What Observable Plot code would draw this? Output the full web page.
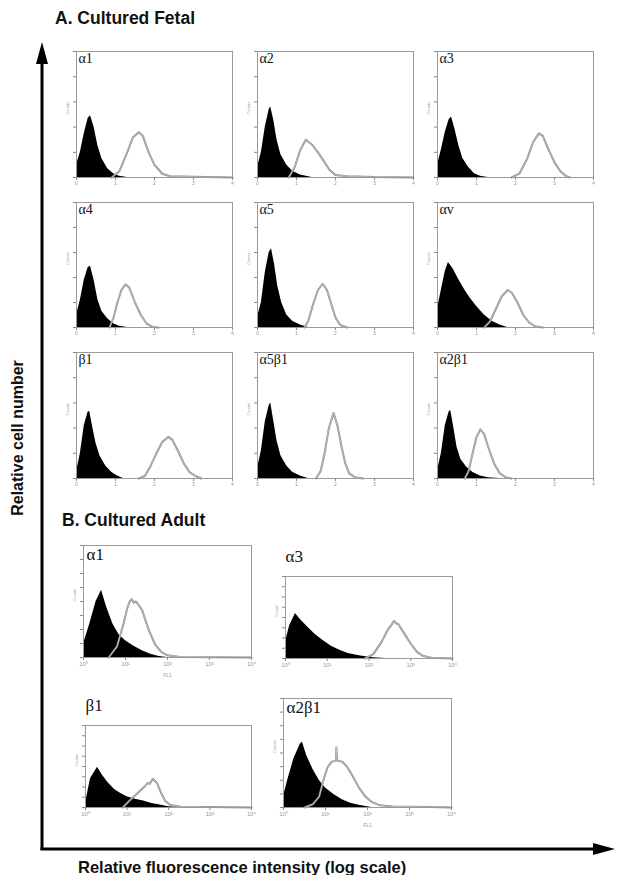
<!DOCTYPE html>
<html>
<head>
<meta charset="utf-8">
<script src="https://cdn.jsdelivr.net/npm/d3@7"></script>
<script src="https://cdn.jsdelivr.net/npm/@observablehq/plot@0.6"></script>
<style>
  html, body { margin: 0; padding: 0; background: #fff; }
  #fig { position: relative; width: 621px; height: 875px; overflow: hidden; background: #fff; font-family: "Liberation Sans", Arial, sans-serif; }
  .ttl { position: absolute; font-weight: bold; color: #111; white-space: nowrap; line-height: 1; }
  .pnl { position: absolute; }
</style>
</head>
<body>
<div id="fig"></div>
<script>
// ---------- DATA (x = log decades 10^0..10^4, y = fraction of panel height) ----------
// A. Cultured Fetal : control (filled) and stained (outline) histograms
const fa1Ctrl  = [[0,0.1],[0.1,0.2],[0.2,0.35],[0.3,0.47],[0.36,0.49],[0.45,0.4],[0.55,0.25],[0.65,0.15],[0.8,0.07],[0.95,0.03],[1.1,0.01],[1.3,0]];
const fa1Stain = [[0.9,0],[1.1,0.05],[1.3,0.2],[1.45,0.32],[1.6,0.36],[1.7,0.33],[1.85,0.2],[2.0,0.1],[2.2,0.03],[2.4,0.01],[3,0.005],[4,0]];
const fa2Ctrl  = [[0,0.08],[0.1,0.2],[0.2,0.4],[0.3,0.54],[0.34,0.56],[0.42,0.45],[0.5,0.3],[0.6,0.18],[0.75,0.1],[0.9,0.05],[1.1,0.02],[1.4,0]];
const fa2Stain = [[0.8,0],[0.95,0.08],[1.1,0.22],[1.24,0.3],[1.4,0.26],[1.55,0.2],[1.7,0.13],[1.85,0.06],[2.0,0.02],[2.3,0.01],[3,0.003],[4,0]];
const fa3Ctrl  = [[0,0.1],[0.1,0.22],[0.2,0.36],[0.3,0.46],[0.36,0.48],[0.45,0.38],[0.55,0.25],[0.65,0.15],[0.8,0.08],[0.95,0.03],[1.1,0.01],[1.3,0]];
const fa3Stain = [[1.9,0],[2.1,0.03],[2.3,0.15],[2.45,0.28],[2.6,0.35],[2.7,0.33],[2.85,0.22],[3.0,0.12],[3.15,0.05],[3.3,0.01],[3.4,0]];
const fa4Ctrl  = [[0,0.1],[0.1,0.22],[0.2,0.38],[0.3,0.48],[0.36,0.49],[0.45,0.38],[0.55,0.22],[0.65,0.13],[0.8,0.07],[0.95,0.03],[1.1,0.01],[1.3,0]];
const fa4Stain = [[0.85,0],[0.95,0.08],[1.05,0.2],[1.15,0.3],[1.26,0.345],[1.35,0.32],[1.5,0.2],[1.65,0.1],[1.8,0.03],[1.95,0.005],[2.1,0]];
const fa5Ctrl  = [[0,0.08],[0.1,0.2],[0.2,0.44],[0.3,0.6],[0.36,0.63],[0.44,0.5],[0.52,0.33],[0.62,0.2],[0.75,0.1],[0.9,0.05],[1.1,0.02],[1.3,0]];
const fa5Stain = [[1.2,0],[1.3,0.05],[1.42,0.18],[1.55,0.3],[1.67,0.35],[1.78,0.3],[1.9,0.18],[2.0,0.08],[2.12,0.02],[2.3,0]];
const favCtrl  = [[0,0.15],[0.1,0.3],[0.2,0.45],[0.28,0.52],[0.4,0.47],[0.55,0.38],[0.7,0.3],[0.85,0.23],[1.0,0.17],[1.2,0.1],[1.4,0.05],[1.6,0.02],[1.8,0]];
const favStain = [[1.2,0],[1.35,0.05],[1.5,0.15],[1.65,0.25],[1.8,0.3],[1.9,0.28],[2.05,0.2],[2.2,0.1],[2.35,0.04],[2.5,0.01],[2.7,0]];
const fb1Ctrl  = [[0,0.05],[0.1,0.2],[0.2,0.42],[0.3,0.53],[0.34,0.53],[0.42,0.4],[0.5,0.28],[0.6,0.18],[0.75,0.1],[0.9,0.05],[1.05,0.02],[1.2,0]];
const fb1Stain = [[1.6,0],[1.75,0.02],[1.9,0.1],[2.05,0.2],[2.2,0.29],[2.35,0.33],[2.45,0.31],[2.6,0.22],[2.75,0.12],[2.9,0.05],[3.05,0.02],[3.2,0]];
const fa5b1Ctrl  = [[0,0.08],[0.1,0.22],[0.2,0.45],[0.3,0.58],[0.34,0.6],[0.42,0.45],[0.5,0.3],[0.6,0.18],[0.75,0.1],[0.9,0.05],[1.1,0.02],[1.3,0]];
const fa5b1Stain = [[1.5,0],[1.62,0.06],[1.72,0.2],[1.83,0.4],[1.95,0.52],[2.05,0.42],[2.15,0.26],[2.25,0.12],[2.35,0.04],[2.5,0.01],[2.7,0]];
const fa2b1Ctrl  = [[0,0.06],[0.1,0.2],[0.2,0.42],[0.3,0.53],[0.34,0.54],[0.42,0.4],[0.5,0.25],[0.6,0.15],[0.75,0.09],[0.9,0.05],[1.1,0.02],[1.3,0.005],[1.6,0]];
const fa2b1Stain = [[0.7,0],[0.8,0.06],[0.9,0.2],[1.0,0.33],[1.1,0.39],[1.2,0.35],[1.3,0.25],[1.45,0.12],[1.6,0.04],[1.75,0.01],[1.9,0]];
// B. Cultured Adult
const aa1Ctrl  = [[0,0.12],[0.15,0.3],[0.3,0.5],[0.43,0.6],[0.55,0.45],[0.7,0.3],[0.85,0.2],[1.0,0.15],[1.2,0.1],[1.4,0.06],[1.6,0.03],[1.8,0.01],[2.0,0]];
const aa1Stain = [[0.6,0],[0.8,0.1],[0.95,0.3],[1.05,0.45],[1.1,0.5],[1.15,0.52],[1.2,0.49],[1.25,0.5],[1.35,0.45],[1.4,0.42],[1.45,0.36],[1.55,0.25],[1.7,0.12],[1.85,0.05],[2.0,0.02],[2.3,0.005],[4,0]];
const aa3Ctrl  = [[0,0.2],[0.1,0.4],[0.24,0.55],[0.35,0.48],[0.5,0.4],[0.7,0.3],[0.9,0.22],[1.1,0.15],[1.3,0.1],[1.5,0.06],[1.8,0.03],[2.1,0.01],[2.4,0]];
const aa3Stain = [[1.9,0],[2.1,0.05],[2.3,0.2],[2.45,0.35],[2.55,0.42],[2.6,0.46],[2.65,0.43],[2.7,0.42],[2.85,0.3],[3.0,0.18],[3.15,0.08],[3.3,0.03],[3.5,0.01],[4,0]];
const ab1Ctrl  = [[0,0.05],[0.12,0.35],[0.29,0.49],[0.4,0.4],[0.55,0.3],[0.7,0.22],[0.85,0.17],[1.0,0.13],[1.2,0.1],[1.4,0.08],[1.6,0.05],[1.8,0.03],[2.0,0.01],[2.3,0]];
const ab1Stain = [[0.9,0],[1.05,0.08],[1.2,0.15],[1.35,0.22],[1.45,0.27],[1.5,0.3],[1.55,0.29],[1.62,0.35],[1.72,0.3],[1.82,0.18],[1.92,0.08],[2.05,0.03],[2.3,0.01],[3,0.005],[4,0]];
const aa2b1Ctrl  = [[0,0.1],[0.1,0.25],[0.25,0.45],[0.4,0.58],[0.45,0.6],[0.55,0.48],[0.7,0.35],[0.85,0.25],[1.0,0.18],[1.2,0.12],[1.4,0.07],[1.6,0.04],[1.8,0.02],[2.1,0]];
const aa2b1Stain = [[0.5,0],[0.7,0.03],[0.85,0.1],[0.95,0.25],[1.05,0.37],[1.15,0.42],[1.25,0.43],[1.26,0.55],[1.28,0.43],[1.4,0.42],[1.5,0.38],[1.6,0.32],[1.7,0.25],[1.8,0.18],[1.95,0.1],[2.1,0.05],[2.3,0.02],[2.6,0.01],[3.5,0.005],[4,0]];

// tick labels
const fetalXTicks = [0,1,2,3,4];
const fetalYTicks = [0,0.2,0.4,0.6,0.8,1];
const adultXTicks = [0,1,2,3,4];
const adultXTickLabels = ["10⁰","10¹","10²","10³","10⁴"];
const adultYTicks = [0,0.125,0.25,0.375,0.5,0.625,0.75,0.875,1];

// ---------- LAYOUT ----------
const panels = [
  {label:"α1",   ctrl:fa1Ctrl,   stain:fa1Stain,   x:76,  y:51,  w:156, h:126, kind:"fetal"},
  {label:"α2",   ctrl:fa2Ctrl,   stain:fa2Stain,   x:257, y:51,  w:156, h:126, kind:"fetal"},
  {label:"α3",   ctrl:fa3Ctrl,   stain:fa3Stain,   x:437, y:51,  w:156, h:126, kind:"fetal"},
  {label:"α4",   ctrl:fa4Ctrl,   stain:fa4Stain,   x:76,  y:202, w:156, h:125, kind:"fetal"},
  {label:"α5",   ctrl:fa5Ctrl,   stain:fa5Stain,   x:257, y:202, w:156, h:125, kind:"fetal"},
  {label:"αv",   ctrl:favCtrl,   stain:favStain,   x:437, y:202, w:156, h:125, kind:"fetal"},
  {label:"β1",   ctrl:fb1Ctrl,   stain:fb1Stain,   x:76,  y:352, w:156, h:126, kind:"fetal"},
  {label:"α5β1", ctrl:fa5b1Ctrl, stain:fa5b1Stain, x:257, y:352, w:156, h:126, kind:"fetal"},
  {label:"α2β1", ctrl:fa2b1Ctrl, stain:fa2b1Stain, x:437, y:352, w:156, h:126, kind:"fetal"},
  {label:"α1",   ctrl:aa1Ctrl,   stain:aa1Stain,   x:83,  y:545, w:168, h:112, kind:"adult", outside:false, fl:true},
  {label:"α3",   ctrl:aa3Ctrl,   stain:aa3Stain,   x:285, y:576, w:167, h:82,  kind:"adult", outside:true,  fl:false},
  {label:"β1",   ctrl:ab1Ctrl,   stain:ab1Stain,   x:85,  y:725, w:166, h:82,  kind:"adult", outside:true,  fl:false},
  {label:"α2β1", ctrl:aa2b1Ctrl, stain:aa2b1Stain, x:283, y:698, w:168, h:109, kind:"adult", outside:false, fl:true}
];

const fig = document.getElementById("fig");

function addTitle(text, left, top, size) {
  const d = document.createElement("div");
  d.className = "ttl";
  d.textContent = text;
  d.style.left = left + "px";
  d.style.top = top + "px";
  d.style.fontSize = size + "px";
  fig.appendChild(d);
  return d;
}

// ---------- PANELS ----------
for (const p of panels) {
  const adult = p.kind === "adult";
  const ml = 14, mr = 4, mt = (p.outside ? 30 : 5), mb = (p.fl ? 24 : 16);
  const serif = "'Liberation Serif', 'DejaVu Serif', serif";
  const marks = [
    Plot.areaY(p.ctrl, {x: d => d[0], y: d => d[1], fill: "#000", curve: "linear"}),
    Plot.lineY(p.stain, {x: d => d[0], y: d => d[1], stroke: "#8c8c8c", strokeWidth: 2, curve: "linear"}),
    Plot.lineY(p.stain, {x: d => d[0], y: d => d[1], stroke: "#d8d8d8", strokeWidth: 0.6, curve: "linear"}),
    Plot.frame({stroke: "#9a9a9a", strokeWidth: 1}),
    Plot.axisX({
      ticks: adult ? adultXTicks : fetalXTicks,
      tickSize: 3, tickPadding: 1,
      tickFormat: adult ? (d => adultXTickLabels[d]) : (d => String(d)),
      fontSize: adult ? 6 : 5, stroke: "#888", fill: "#999", label: null
    }),
    Plot.axisY({
      ticks: adult ? adultYTicks : fetalYTicks,
      tickSize: 3, tickPadding: 1,
      tickFormat: d => "",
      stroke: "#888", fill: "#999", label: null
    }),
    Plot.text(["Counts"], {
      frameAnchor: "left", dx: -9, rotate: -90, fontSize: 4, fill: "#999"
    })
  ];
  if (p.fl) {
    marks.push(Plot.text(["FL1"], {frameAnchor: "bottom", dy: 19, fontSize: 5, fill: "#999"}));
  }
  marks.push(Plot.text([p.label], {
    frameAnchor: "top-left",
    dx: adult ? (p.outside ? 0 : 3) : 2,
    dy: p.outside ? -27 : 2,
    textAnchor: "start", lineAnchor: "top",
    fontSize: adult ? 17 : 14,
    fontFamily: serif, fill: "#111"
  }));
  const chart = Plot.plot({
    width: p.w + ml + mr,
    height: p.h + mt + mb,
    marginLeft: ml, marginRight: mr, marginTop: mt, marginBottom: mb,
    x: {domain: [0, 4], axis: null},
    y: {domain: [0, 1], axis: null},
    style: {background: "transparent", fontFamily: "'Liberation Sans', Arial, sans-serif", overflow: "visible"},
    marks
  });
  const wrap = document.createElement("div");
  wrap.className = "pnl";
  wrap.style.left = (p.x - ml) + "px";
  wrap.style.top = (p.y - mt) + "px";
  wrap.appendChild(chart);
  fig.appendChild(wrap);
}

// ---------- BIG AXES (arrows) ----------
const svg = d3.create("svg").attr("width", 621).attr("height", 875)
  .style("position", "absolute").style("left", "0px").style("top", "0px");
svg.append("line").attr("x1", 42).attr("y1", 850).attr("x2", 42).attr("y2", 60)
  .attr("stroke", "#000").attr("stroke-width", 3);
svg.append("path").attr("d", "M42,42 L36,64 L48,64 Z").attr("fill", "#000");
svg.append("line").attr("x1", 40.5).attr("y1", 849).attr("x2", 598).attr("y2", 849)
  .attr("stroke", "#000").attr("stroke-width", 3);
svg.append("path").attr("d", "M615,849 L593,843 L593,855 Z").attr("fill", "#000");
fig.appendChild(svg.node());

// ---------- TITLES ----------
addTitle("A. Cultured Fetal", 55, 10, 17.5);
addTitle("B. Cultured Adult", 62, 512, 17.5);
addTitle("Relative fluorescence intensity (log scale)", 78, 859, 16.5);
const yl = addTitle("Relative cell number", 18, 438, 16);
yl.style.transform = "translate(-50%, -50%) rotate(-90deg)";
</script>
</body>
</html>
